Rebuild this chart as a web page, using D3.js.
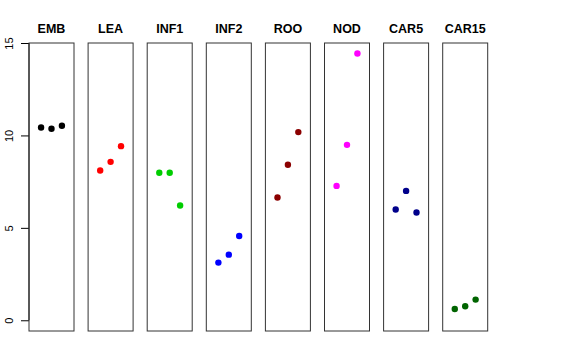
<!DOCTYPE html>
<meta charset="utf-8">
<style>
  body { margin: 0; background: #fff; }
  text { font-family: "Liberation Sans", Arial, sans-serif; }
</style>
<body>
<script src="https://d3js.org/d3.v7.min.js"></script>
<script>

var width = 576,
    height = 360;

// tissue groups, one panel each
var groups = ["EMB", "LEA", "INF1", "INF2", "ROO", "NOD", "CAR5", "CAR15"];
var colors = ["#000000", "#ff0000", "#00cd00", "#0000ff", "#8b0000", "#ff00ff", "#00008b", "#006400"];

// three replicate values per group
var rep1 = [10.43, 8.10, 7.98, 3.12, 6.64, 7.27, 5.99, 0.61];
var rep2 = [10.36, 8.57, 7.98, 3.55, 8.41, 9.49, 7.00, 0.76];
var rep3 = [10.52, 9.42, 6.21, 4.56, 10.18, 14.43, 5.83, 1.12];

var yTicks = [0, 5, 10, 15];

var panelW = 45, panelStep = 59.1, panelX0 = 29,
    plotTop = 43, plotBottom = 331;

var y = d3.scaleLinear().domain([-0.58, 15.0]).range([plotBottom, plotTop]);
var x = d3.scaleLinear().domain([-0.16, 4.16]).range([0, panelW]);

var svg = d3.select("body").append("svg")
    .attr("width", width)
    .attr("height", height);

// y axis on the left of the first panel
var axis = svg.append("g")
    .attr("transform", "translate(" + panelX0 + ",0)")
    .call(d3.axisLeft(y).tickValues(yTicks).tickSize(8).tickPadding(0).tickFormat(d3.format("d")));
axis.select(".domain").attr("d", "M0," + y(0) + "V" + y(15)).attr("stroke", "#000");
axis.selectAll(".tick line").attr("stroke", "#000");
axis.selectAll(".tick text")
    .attr("transform", "rotate(-90)")
    .attr("x", 0).attr("y", -16)
    .attr("dy", 0)
    .attr("text-anchor", "middle")
    .style("font-size", "11px")
    .style("font-family", "Liberation Sans, Arial, sans-serif")
    .attr("fill", "#000");

groups.forEach(function(g, i) {
  var px = panelX0 + i * panelStep;
  var p = svg.append("g").attr("transform", "translate(" + px + ",0)");

  p.append("rect")
      .attr("x", 0).attr("y", plotTop)
      .attr("width", panelW).attr("height", plotBottom - plotTop)
      .attr("fill", "none")
      .attr("stroke", "#333")
      .attr("stroke-width", 1);

  p.append("text")
      .attr("x", panelW / 2).attr("y", 33)
      .attr("text-anchor", "middle")
      .style("font-weight", "bold")
      .style("font-size", "12.5px")
      .text(g);

  var vals = [rep1[i], rep2[i], rep3[i]];
  p.selectAll("circle")
    .data(vals)
    .enter().append("circle")
      .attr("cx", function(d, j) { return x(j + 1); })
      .attr("cy", function(d) { return y(d); })
      .attr("r", 3.2)
      .attr("fill", colors[i]);
});

</script>
